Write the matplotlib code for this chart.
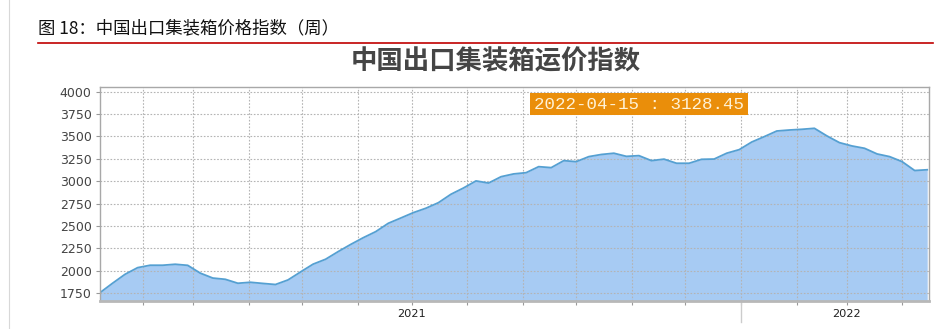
import matplotlib
matplotlib.use("Agg")
import matplotlib.pyplot as plt
import matplotlib.dates as mdates
from matplotlib.lines import Line2D
import pandas as pd
import numpy as np

plt.rcParams['font.family'] = ['Noto Sans CJK SC', 'DejaVu Sans']

# ---- data ----
start_date = "2021-01-08"
ccfi_values = [
    1757, 1862, 1962, 2036, 2063, 2063, 2074, 2062, 1975, 1920,
    1906, 1862, 1873, 1860, 1848, 1899, 1988, 2075, 2130, 2215,
    2295, 2370, 2438, 2531, 2590, 2650, 2699, 2761, 2855, 2925,
    3004, 2980, 3051, 3082, 3096, 3163, 3152, 3230, 3219, 3275,
    3299, 3313, 3278, 3286, 3230, 3247, 3201, 3201, 3245, 3248,
    3313, 3353, 3438, 3498, 3561, 3572, 3580, 3591, 3506, 3431,
    3394, 3368, 3305, 3275, 3219, 3120, 3128.45,
]
dates = pd.date_range(start_date, periods=len(ccfi_values), freq="7D")
y_ticks = [1750, 2000, 2250, 2500, 2750, 3000, 3250, 3500, 3750, 4000]
year_labels = {"2021-07-01": "2021", "2022-03-01": "2022"}
header = "图 18：中国出口集装箱价格指数（周）"
chart_title = "中国出口集装箱运价指数"
callout = "2022-04-15 : 3128.45"

W, H = 939, 329
fig = plt.figure(figsize=(W / 100, H / 100), dpi=100)
fig.patch.set_facecolor("white")

def fx(px):
    return px / W

def fy(py):
    return 1 - py / H

# header and red rule
fig.text(fx(38), fy(28), header, fontsize=12.5, color="#111111",
         va="center", ha="left")
fig.add_artist(Line2D([fx(38), fx(933)], [fy(43), fy(43)],
                      color="#c00000", lw=1.2))
# faint page border on left
fig.add_artist(Line2D([fx(9), fx(9)], [fy(0), fy(329)],
                      color="#d8d8d8", lw=0.8))

# chart title
fig.text(fx(496), fy(62), chart_title, fontsize=19, fontweight="bold",
         color="#454545", va="center", ha="center")

# axes
ax = fig.add_axes([fx(100), fy(301), fx(929) - fx(100), fy(87) - fy(301)])
ax.fill_between(dates, ccfi_values, 1600, color="#a7cbf3", lw=0)
ax.plot(dates, ccfi_values, color="#55a0d2", lw=1.3)

ax.set_xlim(dates[0], dates[-1] + pd.Timedelta(days=1))
ax.set_ylim(1664, 4052)
ax.set_yticks(y_ticks)
ax.set_yticklabels([str(v) for v in y_ticks], fontsize=9,
                   color="#444444", family="DejaVu Sans")

month_ticks = pd.date_range("2021-02-01", "2022-04-01", freq="MS")
ax.set_xticks(month_ticks)
labels = []
for d in month_ticks:
    labels.append(year_labels.get(d.strftime("%Y-%m-%d"), ""))
ax.set_xticklabels(labels, fontsize=8.2, color="#222222", family="DejaVu Sans")
ax.tick_params(axis="x", length=3, color="#999999", pad=3)
ax.tick_params(axis="y", length=3, color="#999999", pad=3)

ax.grid(True, color="#b4b4b4", ls=(0, (1.5, 1.5)), lw=0.8)
for line in ax.get_xgridlines() + ax.get_ygridlines():
    line.set_zorder(0.5)
for s in ax.spines.values():
    s.set_color("#a8a8a8")
    s.set_linewidth(1.0)
ax.spines["bottom"].set_linewidth(2.0)
ax.spines["bottom"].set_color("#b8b8b8")

# year separator tick at 2022-01-01
x_sep = mdates.date2num(pd.Timestamp("2022-01-01"))
ax.plot([x_sep, x_sep], [0, -0.1], transform=ax.get_xaxis_transform(),
        color="#cccccc", lw=1.0, clip_on=False)

# callout box
fig.text(fx(639), fy(104), callout, fontsize=12.6, color="#fff2d6",
         family="Liberation Mono", ha="center", va="center",
         bbox=dict(boxstyle="square,pad=0.22", fc="#ea8e0a", ec="none"))

fig.savefig("out.png", dpi=100, facecolor="white")
